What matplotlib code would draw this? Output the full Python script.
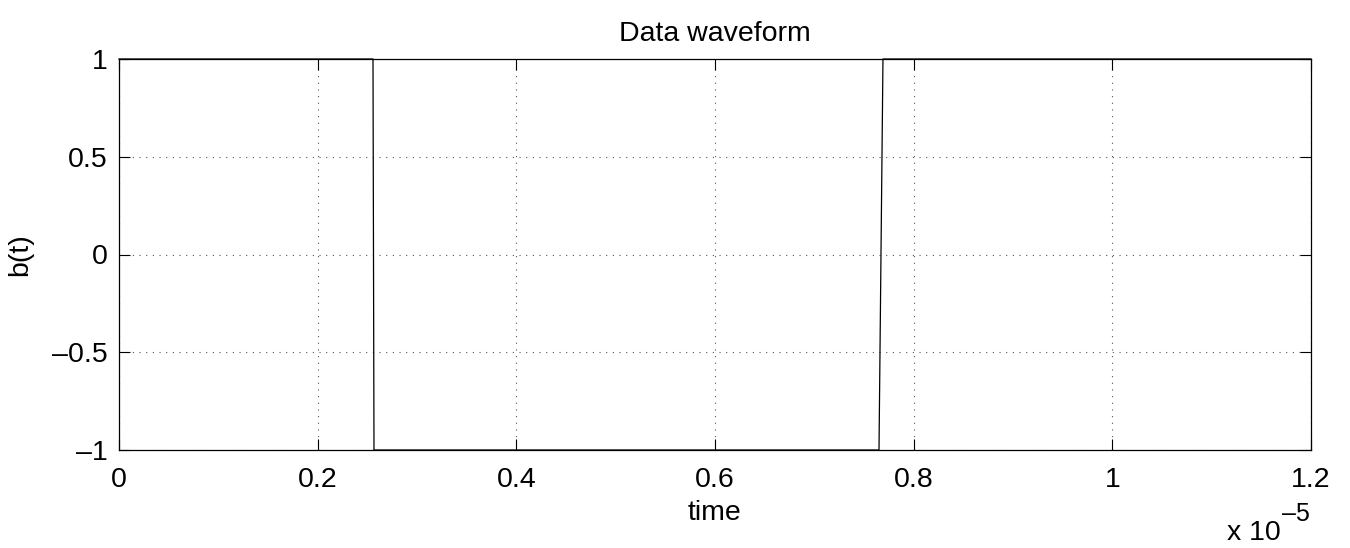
import matplotlib
matplotlib.use('Agg')
import matplotlib.pyplot as plt
from matplotlib.ticker import FuncFormatter
import numpy as np

# data waveform samples (seconds, level)
t = [0.0, 0.2557e-5, 0.2567e-5, 0.7651e-5, 0.7691e-5, 1.2e-5]
b = [1, 1, -1, -1, 1, 1]
xticks = [0, 0.2e-5, 0.4e-5, 0.6e-5, 0.8e-5, 1.0e-5, 1.2e-5]
yticks = [-1, -0.5, 0, 0.5, 1]

fs = 20.5
plt.rcParams['font.family'] = ['Liberation Sans', 'DejaVu Sans']
plt.rcParams['axes.unicode_minus'] = True

fig = plt.figure(figsize=(13.5, 5.48), dpi=100)
ax = fig.add_axes([119/1350, 1 - 450/548, (1311-119)/1350, (450-59)/548])

ax.plot(t, b, color='k', linewidth=0.9, clip_on=False)

ax.set_xlim(0, 1.2e-5)
ax.set_ylim(-1, 1)
ax.set_xticks(xticks)
ax.set_yticks(yticks)
ax.xaxis.set_major_formatter(FuncFormatter(lambda v, p: '%g' % round(v / 1e-5, 4)))
ax.yaxis.set_major_formatter(FuncFormatter(lambda v, p: ('%g' % v).replace('-', '\u2013')))

ax.grid(True, linestyle=(0, (1, 5)), color='#555555', linewidth=0.8)
ax.tick_params(direction='in', length=8, width=0.8, top=True, right=True,
               labelsize=fs)
ax.tick_params(axis='x', pad=12)
ax.tick_params(axis='y', pad=8)
for s in ax.spines.values():
    s.set_linewidth(0.9)

ax.set_title('Data waveform', fontsize=fs, pad=13)
ax.set_xlabel('time', fontsize=fs)
ax.xaxis.set_label_coords(0.5, -0.128)
ax.set_ylabel('b(t)', fontsize=fs)
ax.yaxis.set_label_coords(-0.072, 0.5)
fig.text(1227/1350, 1 - 540/548, 'x 10', fontsize=fs, va='baseline')
fig.text(1282/1350, 1 - 521/548, '\u20135', fontsize=18, va='baseline')

fig.savefig('out.png', dpi=100)
